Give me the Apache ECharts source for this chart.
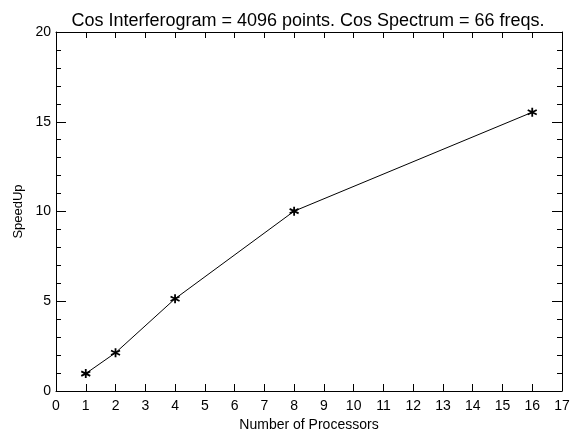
<!DOCTYPE html>
<html lang="en">
<head>
    <meta charset="UTF-8">
    <title>SpeedUp</title>
    <script src="https://cdn.jsdelivr.net/npm/echarts@6/dist/echarts.min.js"></script>
    <style>
        body{ margin: 0; background: #fff; }
    </style>
</head>
<body>
    <div id="main" style="width: 573px; height: 429px;"></div>

    <script>
        var processors = [1, 2, 4, 8, 16];
        var speedUp = [0.97, 2.13, 5.14, 10.02, 15.53];

        var chartTitle = 'Cos Interferogram = 4096 points. Cos Spectrum = 66 freqs.';
        var xName = 'Number of Processors';
        var yName = 'SpeedUp';

        var points = processors.map(function (p, i) { return [p, speedUp[i]]; });

        // asterisk marker
        var star = 'path://M0,-1L0,1M-0.87,-0.5L0.87,0.5M-0.87,0.5L0.87,-0.5';

        var font = 'Liberation Sans, Arial, sans-serif';
        var lineCol = '#000';

        var mycharts = echarts.init(document.getElementById('main'));

        var option = {
            backgroundColor: '#fff',
            animation: false,
            title: {
                text: chartTitle,
                left: 303,
                textAlign: 'center',
                top: 7,
                textStyle: { fontFamily: font, fontSize: 18, fontWeight: 'normal', color: '#000' }
            },
            grid: { left: 56, right: 11, top: 32, bottom: 38, containLabel: false, outerBoundsMode: 'none' },
            xAxis: [{
                type: 'value', min: 0, max: 17, interval: 1,
                name: xName, nameLocation: 'middle', nameGap: 19,
                nameTextStyle: { fontFamily: font, fontSize: 14, color: '#000' },
                axisLine: { onZero: false, lineStyle: { color: lineCol, width: 1 } },
                axisTick: { inside: true, length: 7, lineStyle: { color: lineCol } },
                axisLabel: { fontFamily: font, fontSize: 14, color: '#000', margin: 8 },
                splitLine: { show: false }
            }, {
                type: 'value', min: 0, max: 17, interval: 1, position: 'top',
                axisLine: { onZero: false, lineStyle: { color: lineCol, width: 1 } },
                axisTick: { inside: true, length: 6, lineStyle: { color: lineCol } },
                axisLabel: { show: false },
                splitLine: { show: false }
            }],
            yAxis: [{
                type: 'value', min: 0, max: 20, interval: 5,
                name: yName, nameLocation: 'middle', nameGap: 31,
                nameTextStyle: { fontFamily: font, fontSize: 13, color: '#000' },
                axisLine: { show: true, onZero: false, lineStyle: { color: lineCol, width: 1 } },
                axisTick: { show: true, inside: true, length: 10, lineStyle: { color: lineCol } },
                minorTick: { show: true, splitNumber: 5, length: 5, lineStyle: { color: lineCol } },
                axisLabel: { fontFamily: font, fontSize: 14, color: '#000', margin: 5 },
                splitLine: { show: false }
            }, {
                type: 'value', min: 0, max: 20, interval: 5, position: 'right',
                axisLine: { show: true, onZero: false, lineStyle: { color: lineCol, width: 1 } },
                axisTick: { show: true, inside: true, length: 10, lineStyle: { color: lineCol } },
                minorTick: { show: true, splitNumber: 5, length: 5, lineStyle: { color: lineCol } },
                axisLabel: { show: false },
                splitLine: { show: false }
            }],
            series: [{
                type: 'line',
                data: points,
                symbol: star,
                symbolSize: 9,
                showAllSymbol: true,
                lineStyle: { color: '#000', width: 1 },
                itemStyle: { color: '#000', borderColor: '#000', borderWidth: 1.8 }
            }]
        };

        mycharts.setOption(option);
    </script>
</body>
</html>
